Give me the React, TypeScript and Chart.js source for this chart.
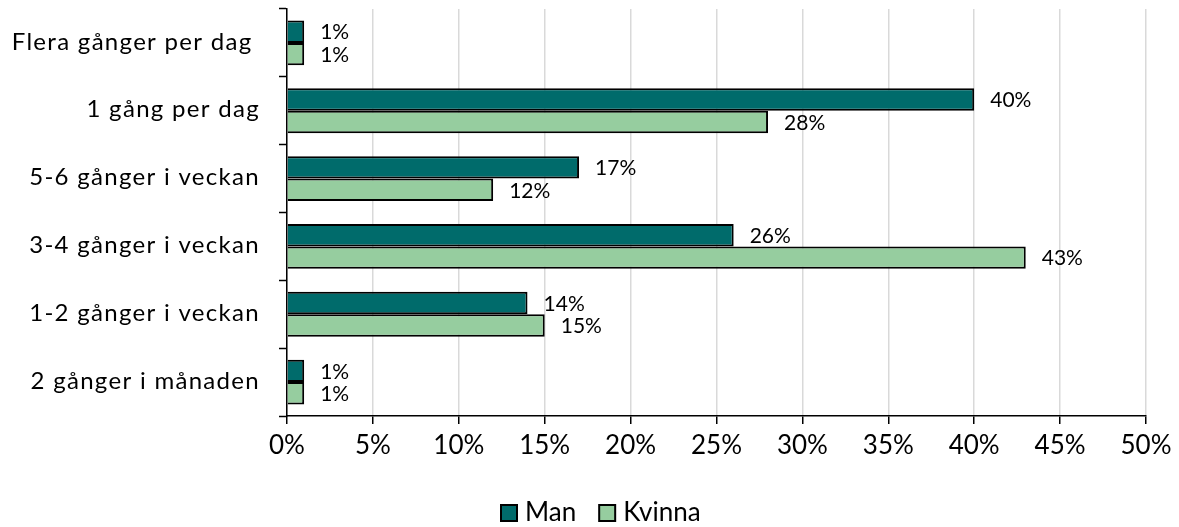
import { useEffect, useRef } from "react";
import { Chart, registerables } from "chart.js";
Chart.register(...registerables);

const categories = [
  "Flera gånger per dag ",
  "1 gång per dag",
  "5-6 gånger i veckan",
  "3-4 gånger i veckan",
  "1-2 gånger i veckan",
  "2 gånger i månaden",
];
const seriesNames = ["Man", "Kvinna"];
const manValues = [1, 40, 17, 26, 14, 1];
const kvinnaValues = [1, 28, 12, 43, 15, 1];
const seriesColors = ["#006b6b", "#96cd9f"];
const xMin = 0;
const xMax = 50;
const xStep = 5;

const FONT = "Lato";

const categoryLabelPlugin = {
  id: "categoryLabels",
  afterDraw(chart: any) {
    const ctx = chart.ctx;
    const ys = chart.scales.y;
    ctx.save();
    ctx.font = `24px ${FONT}`;
    try {
      (ctx as any).letterSpacing = "1.3px";
    } catch (e) {}
    ctx.fillStyle = "#000";
    ctx.textAlign = "right";
    ctx.textBaseline = "middle";
    chart.data.labels.forEach((lab: string, i: number) => {
      ctx.fillText(lab, ys.left + 260, ys.getPixelForValue(i) - 1);
    });
    ctx.restore();
  },
};

const dataLabelPlugin = {
  id: "dataLabels",
  afterDatasetsDraw(chart: any) {
    const ctx = chart.ctx;
    ctx.save();
    ctx.font = `21px ${FONT}`;
    ctx.fillStyle = "#000";
    ctx.textAlign = "left";
    ctx.textBaseline = "middle";
    chart.data.datasets.forEach((ds: any, di: number) => {
      const meta = chart.getDatasetMeta(di);
      meta.data.forEach((el: any, i: number) => {
        ctx.fillText(ds.data[i] + "%", el.x + 16, el.y + 1);
      });
    });
    ctx.restore();
  },
};

const legendPlugin = {
  id: "customLegend",
  afterDraw(chart: any) {
    const ctx = chart.ctx;
    ctx.save();
    ctx.font = `26px ${FONT}`;
    ctx.textBaseline = "middle";
    ctx.textAlign = "left";
    const box = 16;
    const gapBoxText = 8;
    const gapItems = 23;
    const items = chart.data.datasets.map((ds: any) => ({
      label: ds.label,
      color: ds.backgroundColor,
      w: box + gapBoxText + ctx.measureText(ds.label).width,
    }));
    const total = items.reduce((s: number, it: any) => s + it.w, 0) + gapItems * (items.length - 1);
    let x = Math.round(601 - total / 2);
    const y = 513;
    items.forEach((it: any) => {
      ctx.fillStyle = it.color;
      ctx.fillRect(x, y - box / 2, box, box);
      ctx.strokeStyle = "#000";
      ctx.lineWidth = 2;
      ctx.strokeRect(x, y - box / 2, box, box);
      ctx.fillStyle = "#000";
      ctx.fillText(it.label, x + box + gapBoxText, y);
      x += it.w + gapItems;
    });
    ctx.restore();
  },
};

export default function App() {
  const ref = useRef<HTMLCanvasElement | null>(null);
  useEffect(() => {
    if (!ref.current) return;
    const chart = new Chart(ref.current, {
      type: "bar",
      data: {
        labels: categories,
        datasets: [
          {
            label: seriesNames[0],
            data: manValues,
            backgroundColor: seriesColors[0],
            borderColor: "#000",
            borderWidth: 2,
            categoryPercentage: 0.66,
            barPercentage: 1,
          },
          {
            label: seriesNames[1],
            data: kvinnaValues,
            backgroundColor: seriesColors[1],
            borderColor: "#000",
            borderWidth: 2,
            categoryPercentage: 0.66,
            barPercentage: 1,
          },
        ],
      },
      options: {
        indexAxis: "y",
        responsive: false,
        animation: false,
        devicePixelRatio: 1,
        layout: { padding: { top: 9, right: 33, left: 0, bottom: 0 } },
        plugins: {
          legend: { display: false },
          tooltip: { enabled: false },
        },
        scales: {
          x: {
            min: xMin,
            max: xMax,
            ticks: {
              stepSize: xStep,
              callback: (v: any) => v + "%",
              font: { family: FONT, size: 26 },
              color: "#000",
              padding: 6,
            },
            grid: {
              color: "#d9d9d9",
              lineWidth: 1.5,
              tickColor: "#000",
              tickLength: 8,
              tickWidth: 1.5,
            },
            border: { color: "#000", width: 1.5 },
            afterFit: (s: any) => {
              s.height = 111;
            },
          },
          y: {
            grid: {
              offset: true,
              drawOnChartArea: false,
              tickColor: "#000",
              tickLength: 8,
              tickWidth: 1.5,
            },
            border: { color: "#000", width: 1.5 },
            ticks: {
              display: false,
            },
            afterFit: (s: any) => {
              s.width = 287;
              s.paddingTop = 0;
              s.paddingBottom = 0;
            },
          },
        },
      },
      plugins: [dataLabelPlugin, categoryLabelPlugin, legendPlugin],
    });
    return () => chart.destroy();
  }, []);
  return (
    <div style={{ position: "fixed", left: 0, top: 0, width: 1179, height: 527, background: "#fff" }}>
      <canvas ref={ref} width={1179} height={527} style={{ display: "block" }} />
    </div>
  );
}
